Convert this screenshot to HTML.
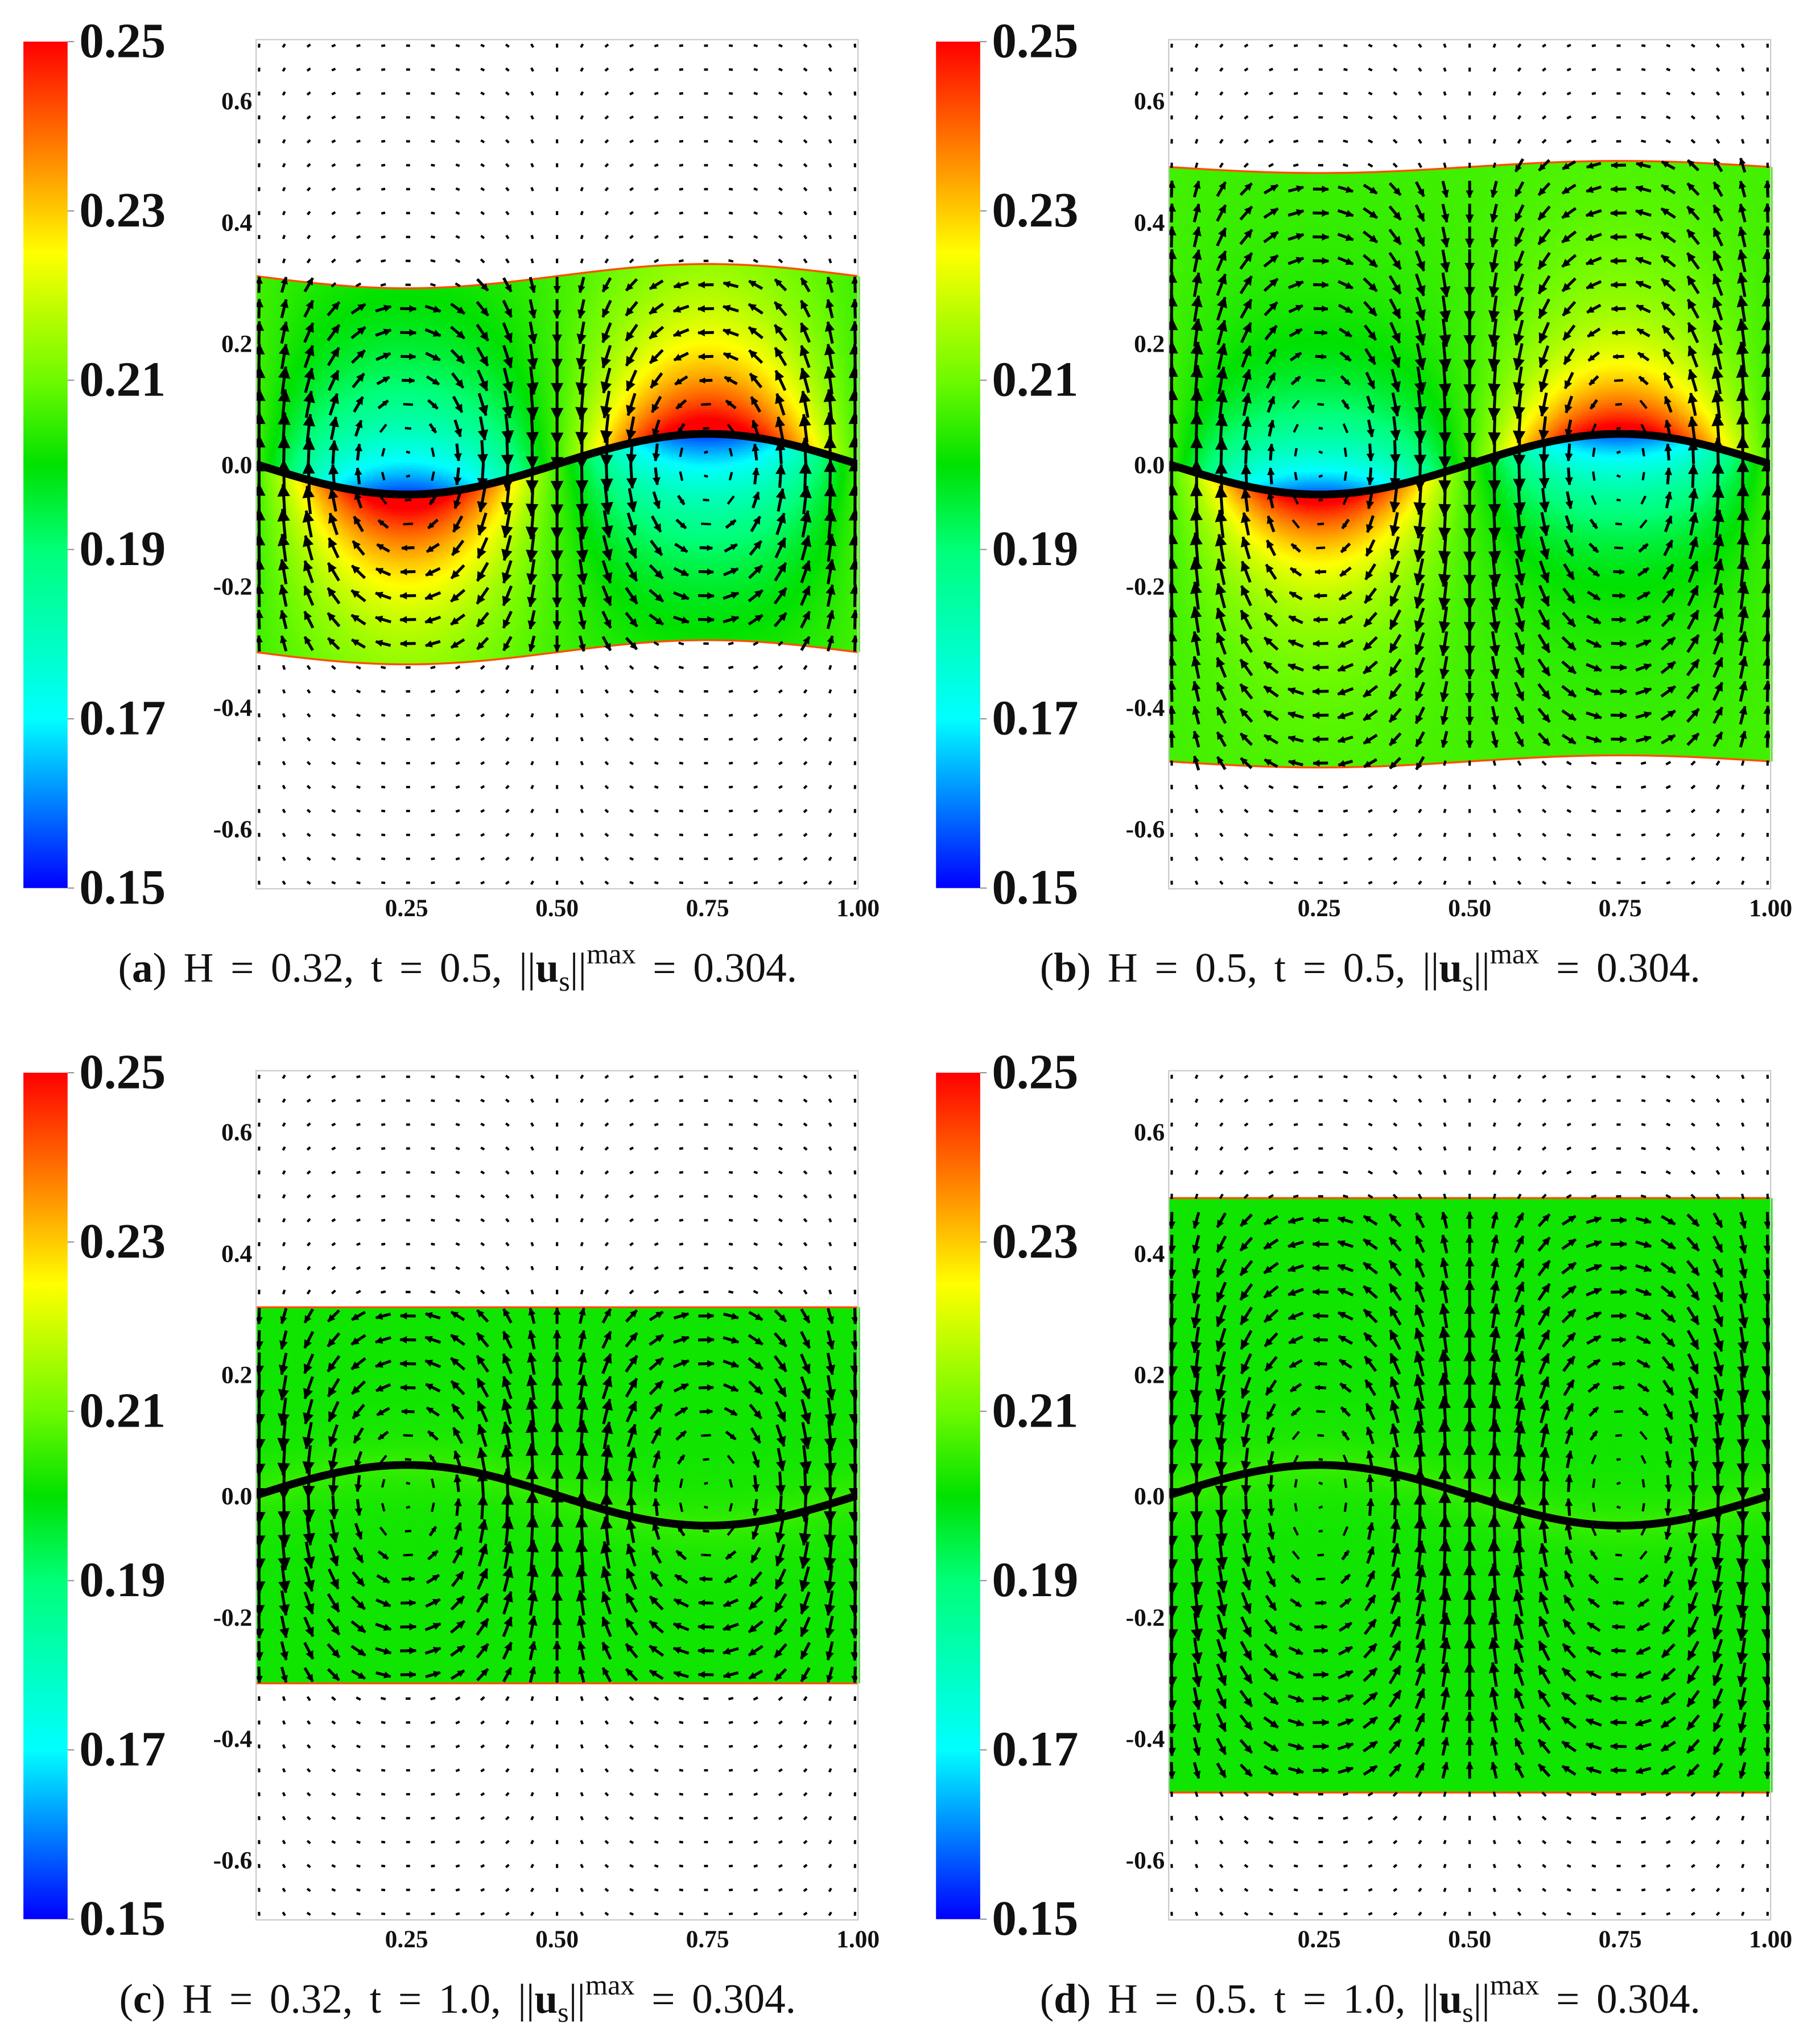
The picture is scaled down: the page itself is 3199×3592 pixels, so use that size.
<!DOCTYPE html>
<html><head><meta charset="utf-8">
<style>
html,body{margin:0;padding:0;background:#fff;}
#wrap{position:relative;width:3199px;height:3592px;overflow:hidden;}
#fieldcanvas{position:absolute;left:0;top:0;}
#fig{position:absolute;left:0;top:0;display:block;}
.tk{font-family:"Liberation Serif",serif;font-weight:bold;font-size:19px;fill:#111;}
.cb{font-family:"Liberation Serif",serif;font-weight:bold;font-size:38px;fill:#111;}
.cap{font-family:"Liberation Serif",serif;font-size:32px;fill:#111;word-spacing:5px;}
</style></head>
<body>
<div id="wrap">
<canvas id="fieldcanvas" width="3199" height="3592"></canvas>
<svg id="fig" width="3199" height="3592" viewBox="0 0 1400 1572" preserveAspectRatio="none" xmlns="http://www.w3.org/2000/svg">
<defs>
<linearGradient id="grad" x1="0" y1="1" x2="0" y2="0">
<stop offset="0" stop-color="#0000ff"/><stop offset="0.2" stop-color="#00ffff"/>
<stop offset="0.4" stop-color="#00ff78"/><stop offset="0.5" stop-color="#00e100"/>
<stop offset="0.6" stop-color="#6efa00"/><stop offset="0.75" stop-color="#ffff00"/>
<stop offset="0.85" stop-color="#ff9600"/><stop offset="1" stop-color="#ff0000"/>
</linearGradient>
</defs>
</svg>
</div>
<script>
var cbTicks=[0.25,0.23,0.21,0.19,0.17,0.15];
var cbLabels=["0.25","0.23","0.21","0.19","0.17","0.15"];
var yTicks=[0.6,0.4,0.2,0.0,-0.2,-0.4,-0.6];
var yLabels=["0.6","0.4","0.2","0.0","-0.2","-0.4","-0.6"];
var xTicks=[0.25,0.5,0.75,1.0];
var xLabels=["0.25","0.50","0.75","1.00"];
var panelIds=["a","b","c","d"];
var panelH=[0.31,0.49,0.31,0.49];
var wallWave=[0.02,0.01,0,0];
var interfaceAmp=[-0.05,-0.05,0.05,0.05];
var lobeAmp=[0.052,0.05,0.004,0.004];
var flowSign=[1,1,-1,-1];
var captionH=["0.32","0.5","0.32","0.5"];
var captionT=["0.5","0.5","1.0","1.0"];
var captionSep=[",",",",",","."];
var offX=[0,702,0,702], offY=[0,0,793,793];

var NS="http://www.w3.org/2000/svg";
var rootSvg=document.getElementById('fig');
var canvas=document.getElementById('fieldcanvas');
var ctx=canvas.getContext('2d');
ctx.scale(3199/1400,3592/1572);
function mk(tag,attrs,parent){var e=document.createElementNS(NS,tag);for(var k in attrs){e.setAttribute(k,attrs[k]);}(parent||rootSvg).appendChild(e);return e;}
var cstops=[[0.15,0,0,255],[0.17,0,255,255],[0.19,0,255,120],[0.20,0,225,0],[0.21,110,250,0],[0.225,255,255,0],[0.235,255,150,0],[0.25,255,0,0]];
function colorOf(v){v=Math.max(0.15,Math.min(0.25,v));for(var i=0;i<cstops.length-1;i++){var a=cstops[i],b=cstops[i+1];if(v<=b[0]){var t=(v-a[0])/(b[0]-a[0]);return 'rgb('+Math.round(a[1]+(b[1]-a[1])*t)+','+Math.round(a[2]+(b[2]-a[2])*t)+','+Math.round(a[3]+(b[3]-a[3])*t)+')';}}return 'rgb(255,0,0)';}
function addTspan(parent,txt,attrs){var s=mk('tspan',attrs||{},parent);s.textContent=txt;return s;}

function drawPanel(p){
  var id=panelIds[p], ox=offX[p], oy=offY[p];
  var X=function(x){return 197+ox+463*x;}, Y=function(y){return 357+oy-466.5*y;};
  var g=mk('g',{});
  
  
  var cb=mk('rect',{x:18+ox,y:32+oy,width:34,height:651,fill:'url(#grad)'},g);
  
  
  var CY=function(v){return 683+oy-(v-0.15)/0.10*651;};
  for(var i=0;i<cbTicks.length;i++){
    var v=cbTicks[i];
    mk('line',{x1:52+ox,x2:57+ox,y1:CY(v),y2:CY(v),stroke:'#999','stroke-width':1},g);
    var t=mk('text',{x:61+ox,y:CY(v)+12,'class':'cb'},g);
    t.textContent=cbLabels[i];
    
    
  }
  var H=panelH[p], ww=wallWave[p], ia=interfaceAmp[p];
  var topW=function(x){return H-ww*Math.sin(2*Math.PI*x);}, botW=function(x){return -H-ww*Math.sin(2*Math.PI*x);};
  var itf=function(x){return ia*Math.sin(2*Math.PI*x);};
  var cw=2;
  for(var px=0;px<463;px+=cw){
    var x=(px+cw/2)/463;
    var yt=topW(x), yb=botW(x);
    for(var py=Y(yt);py<Y(yb);py+=cw){
      var y=(Y(0)-(py+cw/2))/466.5;
      var d=y-itf(x);
      var s=-Math.sin(2*Math.PI*x)*(ia<0?1:-1);
      var sv=(s<0?-1:1)*Math.pow(Math.abs(s),1.1);
      var val;
      if(lobeAmp[p]>0.01) val=0.206+lobeAmp[p]*sv*(d<0?-1:1)*Math.exp(-Math.abs(d)/(p==0?0.15:0.12));
      else val=0.2015+0.004*Math.exp(-Math.abs(d)/0.04);
      ctx.fillStyle=colorOf(val);
      ctx.fillRect(X(0)+px,py,cw+0.5,Math.min(cw+0.5,Y(yb)-py));
    }
  }
  var cp=mk('clipPath',{id:'clip'+id},g);
  mk('rect',{x:X(0),y:Y(0.7),width:463,height:Y(-0.7)-Y(0.7)},cp);
  var plot=mk('g',{'clip-path':'url(#clip'+id+')'},g);
  
  
  var tp='',bp='';
  for(var k=0;k<=50;k++){var xx=k/50;tp+=(k?'L':'M')+X(xx)+' '+Y(topW(xx));bp+=(k?'L':'M')+X(xx)+' '+Y(botW(xx));}
  var tw=mk('path',{d:tp,stroke:'#ff5000','stroke-width':1.5,fill:'none'},plot);
  
  
  var bw=mk('path',{d:bp,stroke:'#ff5000','stroke-width':1.5,fill:'none'},plot);
  
  
  var arr=mk('g',{fill:'#000',stroke:'#000'},plot);
  
  
  var nx=25, ny=36, sig=H*1.1;
  for(var a=0;a<nx;a++){
    var ax=0.005+a/(nx-1)*0.99;
    for(var b=0;b<ny;b++){
      var ay=0.69-b*(1.38/(ny-1));
      var f=Math.exp(-(ay/sig)*(ay/sig));
      var fp=-2*ay/(sig*sig)*f;
      var vv=flowSign[p]*Math.cos(2*Math.PI*ax)*f;
      var uu=-flowSign[p]*Math.sin(2*Math.PI*ax)*fp*sig*0.55;
      var inside=ay<topW(ax)&&ay>botW(ax);
      var kk=inside?1:0.35;
      uu*=kk;vv*=kk;
      var sp=Math.sqrt(uu*uu+vv*vv);
      var L=Math.max(3,26*sp);
      var ux=sp>1e-6?uu/sp:1, uy=sp>1e-6?vv/sp:0;
      var cx=X(ax), cy=Y(ay);
      var x1=cx-ux*L/2, y1=cy+uy*L/2, x2=cx+ux*L/2, y2=cy-uy*L/2;
      mk('line',{x1:x1,y1:y1,x2:x2,y2:y2,'stroke-width':(L>8?2.2:1.8)},arr);
      if(L>8){
        var hl=Math.min(9,L*0.4), hw=Math.min(4.5,L*0.2);
        var bx=x2-ux*hl, by=y2+uy*hl;
        mk('path',{d:'M'+x2+' '+y2+'L'+(bx-uy*hw)+' '+(by-ux*hw)+'L'+(bx+uy*hw)+' '+(by+ux*hw)+'Z','stroke-width':0.5},arr);
      }
    }
  }
  var ip='';
  for(var m=0;m<=100;m++){var ix=m/100;ip+=(m?'L':'M')+X(ix)+' '+Y(itf(ix));}
  var il=mk('path',{d:ip,stroke:'#000','stroke-width':6,fill:'none'},plot);
  
  
  var fr=mk('rect',{x:X(0),y:Y(0.7),width:463,height:Y(-0.7)-Y(0.7),fill:'none',stroke:'#ccc','stroke-width':1},g);
  
  
  for(var q=0;q<yTicks.length;q++){
    var yt2=mk('text',{x:X(0)-3,y:Y(yTicks[q])+7,'class':'tk','text-anchor':'end'},g);
    yt2.textContent=yLabels[q];
    
    
  }
  for(var r=0;r<xTicks.length;r++){
    var xt=mk('text',{x:X(xTicks[r]),y:Y(-0.7)+21,'class':'tk','text-anchor':'middle'},g);
    xt.textContent=xLabels[r];
    
    
  }
  var c=mk('text',{x:352+ox,y:755+oy,'class':'cap','text-anchor':'middle'},g);
  
  
  addTspan(c,'(');
  addTspan(c,id,{'font-weight':'bold'});
  addTspan(c,') H = '+captionH[p]+captionSep[p]+' t = '+captionT[p]+', ||');
  addTspan(c,'u',{'font-weight':'bold'});
  addTspan(c,'s',{'font-size':'22',dy:'7'});
  addTspan(c,'||',{dy:'-7'});
  addTspan(c,'max',{'font-size':'22',dy:'-14'});
  addTspan(c,' = 0.304.',{dy:'14'});
}
for(var pi=0;pi<4;pi++){try{drawPanel(pi);}catch(e){console.log(e);}}
</script>
</body></html>
